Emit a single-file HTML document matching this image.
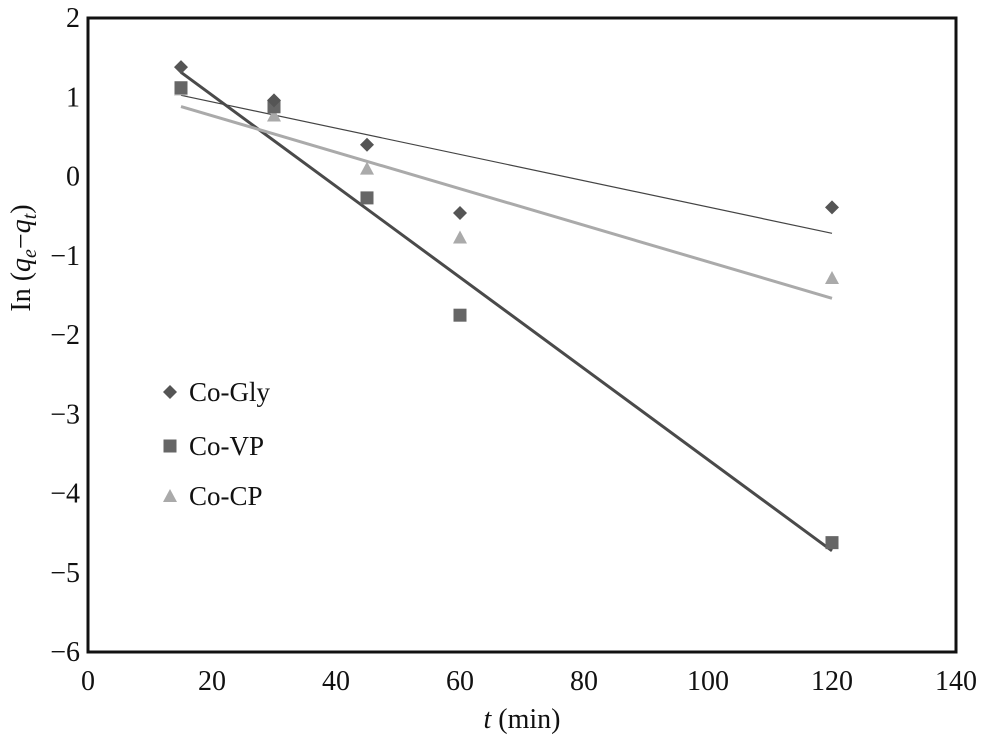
<!DOCTYPE html>
<html><head><meta charset="utf-8"><style>
body{margin:0;background:#fff}
svg text{font-family:"Liberation Serif",serif;fill:#111}
</style></head><body>
<svg id="c" width="981" height="741" xmlns="http://www.w3.org/2000/svg"></svg>
<script>
const xTicks=[0,20,40,60,80,100,120,140];
const yTicks=[2,1,0,-1,-2,-3,-4,-5,-6];
const times=[15,30,45,60,120];
const gly=[1.38,0.96,0.40,-0.46,-0.39];
const vp=[1.12,0.88,-0.27,-1.75,-4.62];
const cp=[1.10,0.77,0.10,-0.77,-1.28];
const seriesNames=["Co-Gly","Co-VP","Co-CP"];
const L=88,R=956,T=18,B=652;
const X=v=>L+(v-0)/140*(R-L);
const Y=v=>T+(2-v)/8*(B-T);
const svg=document.getElementById('c');
const NS='http://www.w3.org/2000/svg';
function mk(tag,attrs,parent){const e=document.createElementNS(NS,tag);for(const k in attrs)e.setAttribute(k,attrs[k]);(parent||svg).appendChild(e);return e;}
const frame=mk('rect',{x:L,y:T,width:R-L,height:B-T,fill:'none',stroke:'#111','stroke-width':3});


xTicks.forEach(t=>{const e=mk('text',{x:X(t),y:690,'font-size':28,'text-anchor':'middle'});e.textContent=t;

});
yTicks.forEach(t=>{const e=mk('text',{x:80,y:Y(t)+9,'font-size':28,'text-anchor':'end'});e.textContent=t<0?'\u2212'+(-t):t;

});
const xt=mk('text',{x:522,y:728,'font-size':28,'text-anchor':'middle'});
xt.innerHTML='<tspan font-style="italic">t</tspan> (min)';


const yt=mk('text',{x:0,y:0,'font-size':28,'text-anchor':'middle',transform:'translate(30,258) rotate(-90)'});
yt.innerHTML='In (<tspan font-style="italic">q</tspan><tspan font-style="italic" font-size="20" dy="6">e</tspan><tspan dy="-6">\u2212</tspan><tspan font-style="italic">q</tspan><tspan font-style="italic" font-size="20" dy="6">t</tspan><tspan dy="-6">)</tspan>';


function fit(xs,ys){const n=xs.length,mx=xs.reduce((a,b)=>a+b)/n,my=ys.reduce((a,b)=>a+b)/n;let sxy=0,sxx=0;xs.forEach((x,i)=>{sxy+=(x-mx)*(ys[i]-my);sxx+=(x-mx)**2});const s=sxy/sxx;return x=>my+s*(x-mx);}
const specs=[{d:gly,col:'#555',lc:'#444',lw:1.2,shape:'diamond'},{d:vp,col:'#666',lc:'#4a4a4a',lw:3,shape:'square'},{d:cp,col:'#aaa',lc:'#aaa',lw:3,shape:'triangle'}];
function marker(shape,cx,cy,col,name){let e;
if(shape==='diamond')e=mk('polygon',{points:`${cx},${cy-7} ${cx+7},${cy} ${cx},${cy+7} ${cx-7},${cy}`,fill:col});
else if(shape==='square')e=mk('rect',{x:cx-6.5,y:cy-6.5,width:13,height:13,fill:col});
else e=mk('polygon',{points:`${cx},${cy-7} ${cx+7},${cy+6} ${cx-7},${cy+6}`,fill:col});

}
specs.forEach((s,i)=>{const f=fit(times,s.d);
const ln=mk('line',{x1:X(times[0]),y1:Y(f(times[0])),x2:X(times[times.length-1]),y2:Y(f(times[times.length-1])),stroke:s.lc,'stroke-width':s.lw});

});
[2,1,0].forEach(i=>{const s=specs[i];times.forEach((t,j)=>marker(s.shape,X(t),Y(s.d[j]),s.col,'point-'+seriesNames[i].toLowerCase()));});
const ly=[392,446,496];
specs.forEach((s,i)=>{marker(s.shape,170,ly[i],s.col,'legend-marker');
const e=mk('text',{x:189,y:ly[i]+9,'font-size':27});e.textContent=seriesNames[i];

});
</script>
</body></html>
